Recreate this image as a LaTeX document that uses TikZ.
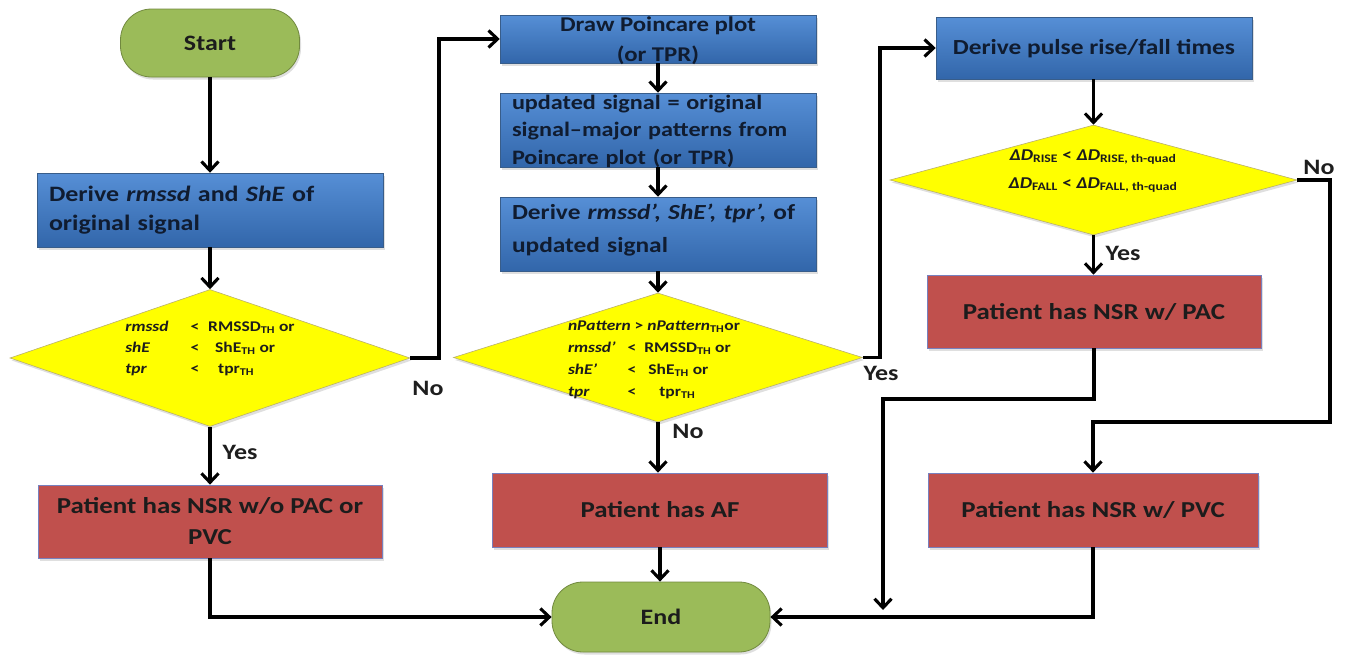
\documentclass[tikz,border=0pt]{standalone}
\usepackage{fontspec}
\setmainfont{Carlito}[FakeStretch=1.18]
\usetikzlibrary{arrows.meta,shapes.geometric,shadows}
\definecolor{blueTop}{RGB}{86,143,214}
\definecolor{blueBot}{RGB}{50,102,170}
\definecolor{blueEdge}{RGB}{56,93,138}
\definecolor{redFill}{RGB}{192,80,77}
\definecolor{redEdge}{RGB}{120,128,190}
\definecolor{greenFill}{RGB}{155,187,89}
\definecolor{greenEdge}{RGB}{113,137,63}
\definecolor{yelFill}{RGB}{255,255,0}
\definecolor{yelEdge}{RGB}{185,175,110}
\definecolor{navyText}{RGB}{16,28,48}
\definecolor{darkText}{RGB}{28,28,28}
\definecolor{labText}{RGB}{30,30,30}
\begin{document}
\begin{tikzpicture}[x=1pt,y=-1pt,
  shade/.style={drop shadow={opacity=0.25,shadow xshift=1.5pt,shadow yshift=-2.5pt}},
  bluebox/.style={rectangle,top color=blueTop,bottom color=blueBot,draw=blueEdge,line width=0.5pt,inner sep=0pt,shade},
  bluetext/.style={inner sep=0pt,text=navyText,font=\fontsize{22}{29}\selectfont\bfseries},
  redbox/.style={rectangle,fill=redFill,draw=redEdge,line width=0.7pt,inner sep=0pt,text=darkText,align=center,font=\fontsize{22.8}{31}\selectfont\bfseries,shade},
  term/.style={rectangle,rounded corners=31pt,fill=greenFill,draw=greenEdge,line width=0.8pt,inner sep=0pt,text=darkText,font=\fontsize{22}{26}\selectfont\bfseries,shade},
  dia/.style={diamond,fill=yelFill,draw=yelEdge,line width=0.6pt,inner sep=0pt,shade},
  diatext/.style={inner sep=0pt,text=darkText,font=\fontsize{14.8}{22}\selectfont\bfseries},
  lab/.style={inner sep=0pt,text=labText,font=\fontsize{22}{26}\selectfont\bfseries},
  conn/.style={line width=3.1pt,-{Straight Barb[length=9pt,width=17pt]}},
  plain/.style={line width=3.1pt}
]
\useasboundingbox (0,0) rectangle (1353,656);

% left column
\node[term,minimum width=179pt,minimum height=68pt] (start) at (210,43) {Start};
\node[bluebox,minimum width=346pt,minimum height=74pt] (d1) at (210,210) {};
\node[bluetext,text width=322pt,align=left] (d1t) at (d1) {Derive \textit{rmssd} and \textit{ShE} of\\original signal};
\node[dia,minimum width=400pt,minimum height=137pt] (dia1) at (210,358) {};
\node[diatext] (dia1t) at (210,348) {%
  \begin{tabular}{@{}l@{\hspace{22pt}}l@{\hspace{9pt}}l@{}}
  \textit{rmssd} & < & RMSSD\textsubscript{TH} or\\[-1pt]
  \textit{shE} & < & \hspace{7pt}ShE\textsubscript{TH} or\\[-1pt]
  \textit{tpr} & < & \hspace{10pt}tpr\textsubscript{TH}
  \end{tabular}};
\node[redbox,minimum width=344pt,minimum height=73pt] (r1) at (210,521.5) {Patient has NSR w/o PAC or\\PVC};

% middle column
\node[bluebox,minimum width=316pt,minimum height=48pt] (poin) at (658,39) {};
\node[bluetext,align=center,font=\fontsize{21}{30}\selectfont\bfseries] (point) at (658,41) {Draw Poincare plot\\(or TPR)};
\node[bluebox,minimum width=316pt,minimum height=74pt] (upd) at (658,130) {};
\node[bluetext,text width=292pt,align=left,font=\fontsize{20.5}{27.5}\selectfont\bfseries] (updt) at (658,131) {updated signal = original\\signal--major patterns from\\Poincare plot (or TPR)};
\node[bluebox,minimum width=316pt,minimum height=74pt] (d2) at (658,234) {};
\node[bluetext,text width=292pt,align=left,font=\fontsize{21.5}{33}\selectfont\bfseries] (d2t) at (658,230) {Derive \textit{rmssd’, ShE’, tpr’,} of\\updated signal};
\node[dia,minimum width=409pt,minimum height=129pt] (dia2) at (658,357.5) {};
\node[diatext,font=\fontsize{14.8}{23}\selectfont\bfseries] (dia2t) at (654,359) {%
  \begin{tabular}{@{}l@{\hspace{12pt}}l@{\hspace{8pt}}l@{}}
  \multicolumn{3}{@{}l@{}}{\textit{nPattern} > \textit{nPattern}\textsubscript{TH}or}\\[-1pt]
  \textit{rmssd’} & < & RMSSD\textsubscript{TH} or\\[-1pt]
  \textit{shE’}\hspace{-8pt} & < & \hspace{4pt}ShE\textsubscript{TH} or\\[-1pt]
  \textit{tpr} & < & \hspace{15pt}tpr\textsubscript{TH}
  \end{tabular}};
\node[redbox,minimum width=335pt,minimum height=74pt] (af) at (660,510) {Patient has AF};
\node[term,minimum width=218pt,minimum height=70pt] (end) at (661,617) {End};

% right column
\node[bluebox,minimum width=316pt,minimum height=62pt] (pulse) at (1094,48) {};
\node[bluetext,font=\fontsize{21.5}{29}\selectfont\bfseries] (pulset) at (1094,49) {Derive pulse rise/fall times};
\node[dia,minimum width=407pt,minimum height=110pt] (dia3) at (1093.5,180) {};
\node[diatext,align=center,font=\fontsize{16.5}{28}\selectfont\bfseries] (dia3t) at (1093,171) {%
  \textit{ΔD}\textsubscript{RISE} < \textit{ΔD}\textsubscript{RISE, th-quad}\\
  \textit{ΔD}\textsubscript{FALL} < \textit{ΔD}\textsubscript{FALL, th-quad}};
\node[redbox,minimum width=334pt,minimum height=73pt] (pac) at (1094,311.5) {Patient has NSR w/ PAC};
\node[redbox,minimum width=330pt,minimum height=74pt] (pvc) at (1093,510) {Patient has NSR w/ PVC};

% labels
\node[lab] (l1) at (428,388) {No};
\node[lab] (l2) at (240,452) {Yes};
\node[lab] (l3) at (688,431) {No};
\node[lab] (l4) at (881,373) {Yes};
\node[lab] (l5) at (1123,253) {Yes};
\node[lab] (l6) at (1319,167) {No};

% helper coordinates
\coordinate (k1) at (439,358);
\coordinate (k2) at (880,357.5);
\coordinate (k3) at (1330,422);
\coordinate (k4) at (883,399);
\coordinate (k5) at (883,610);

% connectors
\draw[conn] (start) -- (d1);
\draw[conn] (d1) -- (dia1);
\draw[conn] (dia1) -- (r1);
\draw[conn] (dia1.east) -- (k1) |- (poin.west);
\draw[conn] (poin) -- (upd);
\draw[conn] (upd) -- (d2);
\draw[conn] (d2) -- (dia2);
\draw[conn] (dia2.south) -- (af.north -| dia2.south);
\draw[conn] (dia2.east) -- (k2) |- (pulse.west);
\draw[conn] (pulse.south -| dia3.north) -- (dia3.north);
\draw[conn] (dia3.south) -- (pac.north -| dia3.south);
\draw[conn] (dia3.east) -| (k3) -| (pvc.north);
\draw[conn] (pac.south) |- (k4) -- (k5);
\draw[conn] (r1.south) |- (end.west);
\draw[conn] (af.south) -- (end.north -| af.south);
\draw[conn] (pvc.south) |- (end.east);
\end{tikzpicture}
\end{document}
